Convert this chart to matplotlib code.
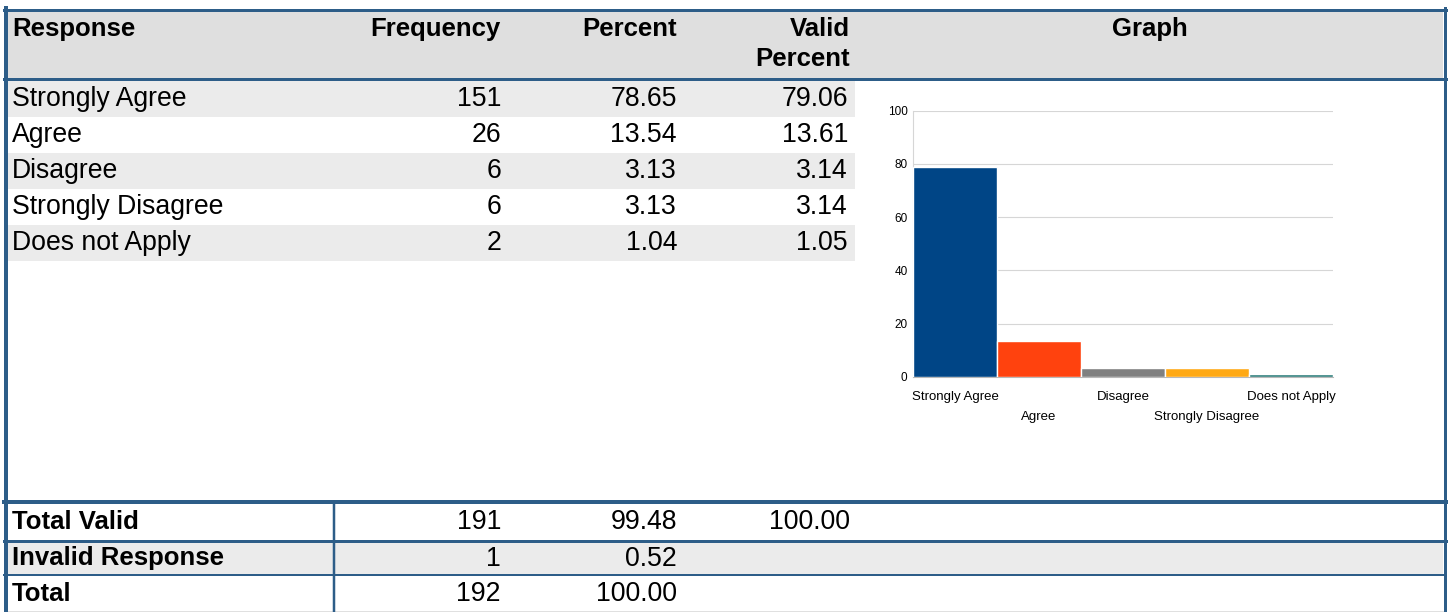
import matplotlib.pyplot as plt
from matplotlib.patches import Rectangle

# datos de la tabla
responses = ['Strongly Agree', 'Agree', 'Disagree', 'Strongly Disagree', 'Does not Apply']
frequency = [151, 26, 6, 6, 2]
percent = [78.65, 13.54, 3.13, 3.13, 1.04]
valid_percent = [79.06, 13.61, 3.14, 3.14, 1.05]
# filas de totales
summary_labels = ['Total Valid', 'Invalid Response', 'Total']
summary_freq = [191, 1, 192]
summary_pct = [99.48, 0.52, 100.00]
summary_valid = [100.00, None, None]
# ejes del grafico
y_ticks = [0, 20, 40, 60, 80, 100]

plt.rcParams['font.family'] = ['Liberation Sans', 'DejaVu Sans']

W, H = 1448, 612
fig = plt.figure(figsize=(W / 100, H / 100), dpi=100)
bg = fig.add_axes([0, 0, 1, 1])
bg.set_xlim(0, W)
bg.set_ylim(H, 0)
bg.axis('off')

blue = '#2d5d88'
fs_h = 18.5  # encabezados
fs = 19.2    # cuerpo
px = 0.72  # px -> pt

# encabezado
bg.add_patch(Rectangle((7, 11), 1436, 67, color='#dfdfdf', lw=0))
bg.text(12, 29, 'Response', fontsize=fs_h, fontweight='bold', va='center', ha='left')
bg.text(501, 29, 'Frequency', fontsize=fs_h, fontweight='bold', va='center', ha='right')
bg.text(677, 29, 'Percent', fontsize=fs_h, fontweight='bold', va='center', ha='right')
bg.text(850, 29, 'Valid', fontsize=fs_h, fontweight='bold', va='center', ha='right')
bg.text(850, 59, 'Percent', fontsize=fs_h, fontweight='bold', va='center', ha='right')
bg.text(1150, 29, 'Graph', fontsize=fs_h, fontweight='bold', va='center', ha='center')

# filas de datos
row_h = 36
for i, r in enumerate(responses):
    y0 = 81 + i * row_h
    if i % 2 == 0:
        bg.add_patch(Rectangle((8, y0), 847, row_h, color='#ebebeb', lw=0))
    yc = y0 + row_h / 2
    bg.text(12, yc, r, fontsize=fs, va='center', ha='left')
    bg.text(501, yc, str(frequency[i]), fontsize=fs, va='center', ha='right')
    bg.text(677, yc, f'{percent[i]:.2f}', fontsize=fs, va='center', ha='right')
    bg.text(848, yc, f'{valid_percent[i]:.2f}', fontsize=fs, va='center', ha='right')

# filas de totales
sum_y = [503, 542, 576]
sum_h = [38, 33, 36]
for i, lab in enumerate(summary_labels):
    if i == 1:
        bg.add_patch(Rectangle((8, sum_y[i]), 1435, sum_h[i], color='#ebebeb', lw=0))
    yc = sum_y[i] + sum_h[i] / 2
    bg.text(12, yc, lab, fontsize=fs_h, fontweight='bold', va='center', ha='left')
    bg.text(501, yc, str(summary_freq[i]), fontsize=fs, va='center', ha='right')
    bg.text(677, yc, f'{summary_pct[i]:.2f}', fontsize=fs, va='center', ha='right')
    if summary_valid[i] is not None:
        bg.text(850, yc, f'{summary_valid[i]:.2f}', fontsize=fs, va='center', ha='right')

# bordes
bg.plot([4, 1446], [9.5, 9.5], color=blue, lw=3 * px)
bg.plot([4, 1446], [78.5, 78.5], color=blue, lw=3 * px)
bg.plot([4, 1446], [501.5, 501.5], color=blue, lw=4 * px)
bg.plot([4, 1446], [541, 541], color=blue, lw=3 * px)
bg.plot([4, 1446], [575, 575], color=blue, lw=2 * px)
bg.plot([4, 1446], [611, 611], color='#e0e0e0', lw=1 * px)
bg.plot([5.5, 5.5], [8, H], color=blue, lw=4 * px)
bg.plot([1444.5, 1444.5], [8, H], color=blue, lw=3 * px)
bg.plot([334, 334], [502, H], color=blue, lw=2.5 * px)

# grafico de barras
left, right, top, bottom = 913, 1333, 110.7, 376.7
ax = fig.add_axes([left / W, (H - bottom) / H, (right - left) / W, (bottom - top) / H])
colors = ['#004586', '#ff420e', '#808080', '#ffa915', '#2e7d7a']
xs = list(range(len(responses)))
ax.bar(xs, percent, width=1.0, color=colors, edgecolor='white', lw=1, zorder=3)
ax.set_xlim(-0.5, len(responses) - 0.5)
ax.set_ylim(0, 100)
ax.set_yticks(y_ticks)
ax.set_yticklabels([str(t) for t in y_ticks], fontsize=8.5)
ax.yaxis.grid(True, color='#d6d6d6', lw=0.8)
ax.set_axisbelow(True)
for s in ['top', 'right']:
    ax.spines[s].set_visible(False)
ax.spines['left'].set_color('#d6d6d6')
ax.spines['bottom'].set_color('#b8b8b8')
ax.tick_params(axis='both', length=0)
ax.tick_params(axis='y', pad=4)
ax.set_xticks(xs)
ax.set_xticklabels(responses, fontsize=9.5)
for i, t in enumerate(ax.xaxis.get_major_ticks()):
    t.set_pad(10 if i % 2 == 0 else 25)

fig.savefig('out.png', dpi=100)
